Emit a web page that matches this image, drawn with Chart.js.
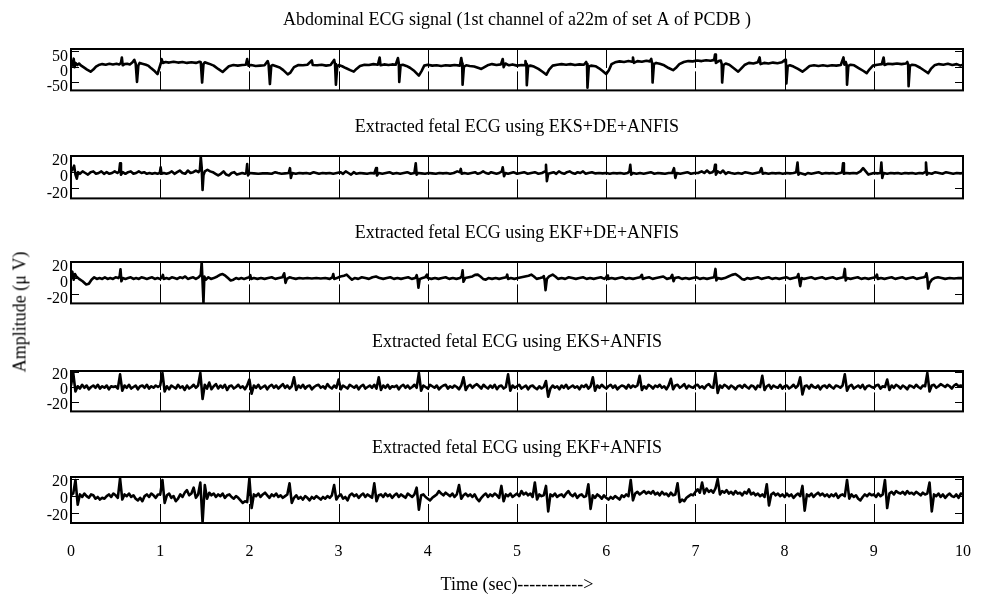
<!DOCTYPE html>
<html>
<head>
<meta charset="utf-8">
<script src="https://cdn.jsdelivr.net/npm/chart.js@4.4.1/dist/chart.umd.min.js"></script>
<style>
body { margin: 0; background: #fff; width: 984px; height: 597px; position: relative; overflow: hidden; }
canvas { position: absolute; left: 0; }
#ylab {
    position: absolute; left: 20px; top: 312px;
    transform: translate(-50%, -50%) rotate(-90deg);
    font: 18px "Liberation Serif", serif; white-space: nowrap; color: #000;
}
</style>
</head>
<body>
<canvas id="p0"></canvas>
<canvas id="p1"></canvas>
<canvas id="p2"></canvas>
<canvas id="p3"></canvas>
<canvas id="p4"></canvas>
<div id="ylab">Amplitude (μ V)</div>
<script>
const panelTitles = [
    'Abdominal ECG signal (1st channel of a22m of set A of PCDB )',
    'Extracted fetal ECG using EKS+DE+ANFIS',
    'Extracted fetal ECG using EKF+DE+ANFIS',
    'Extracted fetal ECG using EKS+ANFIS',
    'Extracted fetal ECG using EKF+ANFIS'
];
const maternalTicks = [-50, 0, 50];
const fetalTicks = [-20, 0, 20];
const timeLabel = 'Time (sec)----------->';
const sampleStep = 0.025; // sec, for the two ANFIS-only traces

// [time (s), amplitude]
const abdominalEcg = [
    [0.00, 8], [0.015, 3], [0.03, 26], [0.04, -2], [0.05, 12], [0.07, 5], [0.09, 10], [0.11, 4], [0.14, -2], [0.18, -10],
    [0.22, -17], [0.25, -10], [0.28, 0], [0.31, 5], [0.35, 8], [0.39, 6], [0.43, 9], [0.47, 7], [0.51, 9], [0.54, 7],
    [0.56, 12], [0.57, 30], [0.58, 4], [0.60, 8], [0.63, 9], [0.66, 7], [0.69, 14], [0.71, 22], [0.725, 10], [0.74, -51],
    [0.755, 4], [0.77, 12], [0.80, 9], [0.84, 6], [0.87, 2], [0.90, -6], [0.94, -16], [0.97, -25], [0.99, -5], [1.01, 14],
    [1.015, 25], [1.03, 12], [1.06, 15], [1.10, 13], [1.15, 16], [1.20, 13], [1.25, 15], [1.30, 12], [1.35, 14], [1.40, 12],
    [1.44, 16], [1.455, 14], [1.47, -53], [1.485, 8], [1.50, 14], [1.53, 11], [1.56, 8], [1.60, 3], [1.65, -8], [1.70, -18],
    [1.73, -10], [1.77, 1], [1.82, 5], [1.87, 3], [1.92, 5], [1.96, 6], [1.975, 25], [1.99, 3], [2.02, 5], [2.07, 2],
    [2.12, 3], [2.17, 4], [2.205, 18], [2.215, 8], [2.23, -58], [2.245, 2], [2.26, 5], [2.30, 1], [2.34, -3], [2.38, -12],
    [2.43, -26], [2.46, -20], [2.50, -2], [2.55, 5], [2.60, 4], [2.65, 6], [2.70, 20], [2.71, 5], [2.76, 4], [2.81, 6],
    [2.86, 3], [2.91, 5], [2.95, 22], [2.96, 8], [2.97, -60], [2.985, 0], [3.00, 5], [3.04, 1], [3.08, -5], [3.13, -12],
    [3.17, -17], [3.20, -8], [3.24, 2], [3.29, 6], [3.34, 5], [3.39, 8], [3.44, 6], [3.46, 30], [3.47, 4], [3.51, 7],
    [3.56, 5], [3.60, 7], [3.64, 6], [3.665, 28], [3.675, 10], [3.68, -51], [3.695, 4], [3.72, 6], [3.76, 2], [3.80, -4],
    [3.85, -15], [3.90, -30], [3.93, -15], [3.96, 3], [4.00, 6], [4.05, 3], [4.10, 4], [4.15, 2], [4.20, 4], [4.25, 3],
    [4.30, 5], [4.36, 3], [4.375, 28], [4.385, 10], [4.39, -60], [4.405, 0], [4.43, 4], [4.47, 2], [4.52, 0], [4.57, -5],
    [4.60, -8], [4.63, -3], [4.67, 4], [4.72, 8], [4.77, 5], [4.82, 7], [4.84, 25], [4.85, -2], [4.87, 10], [4.91, 4],
    [4.95, 7], [5.00, 3], [5.05, 5], [5.09, 4], [5.095, 18], [5.105, 8], [5.11, -62], [5.125, 2], [5.15, 3], [5.19, 0],
    [5.24, -8], [5.29, -18], [5.33, -27], [5.36, -10], [5.40, 3], [5.45, 6], [5.50, 8], [5.55, 6], [5.60, 8], [5.65, 5],
    [5.70, 7], [5.75, 6], [5.775, 15], [5.785, 8], [5.79, -70], [5.805, 0], [5.83, 3], [5.88, 1], [5.92, -6], [5.96, -15],
    [6.00, -25], [6.03, -12], [6.06, 8], [6.10, 14], [6.15, 17], [6.20, 15], [6.25, 18], [6.29, 16], [6.30, 30], [6.31, 12],
    [6.35, 18], [6.40, 16], [6.45, 19], [6.49, 17], [6.505, 25], [6.515, 10], [6.52, -53], [6.535, 8], [6.56, 12], [6.60, 9],
    [6.65, 4], [6.70, -5], [6.75, -12], [6.78, -5], [6.82, 8], [6.87, 15], [6.92, 18], [6.97, 17], [7.02, 20], [7.07, 18],
    [7.12, 21], [7.17, 19], [7.21, 22], [7.22, 40], [7.23, 12], [7.26, 18], [7.285, 20], [7.295, 8], [7.30, -53], [7.315, 5],
    [7.34, 10], [7.38, 6], [7.42, -3], [7.48, -17], [7.51, -8], [7.55, 5], [7.60, 12], [7.65, 10], [7.70, 14], [7.72, 30],
    [7.73, 8], [7.77, 12], [7.82, 10], [7.87, 13], [7.92, 11], [7.97, 14], [8.005, 22], [8.015, 10], [8.02, -56], [8.035, 2],
    [8.06, 4], [8.10, 0], [8.15, -8], [8.20, -17], [8.24, -8], [8.28, 2], [8.33, 4], [8.38, 2], [8.43, 4], [8.48, 2],
    [8.53, 4], [8.58, 3], [8.63, 5], [8.66, 30], [8.67, 6], [8.685, 15], [8.695, 6], [8.70, -60], [8.715, 2], [8.74, 6],
    [8.78, 4], [8.83, -5], [8.88, -14], [8.92, -22], [8.95, -10], [8.99, 3], [9.04, 6], [9.09, 8], [9.11, 30], [9.12, 5],
    [9.16, 9], [9.21, 8], [9.26, 10], [9.31, 8], [9.36, 10], [9.375, 15], [9.385, 6], [9.39, -65], [9.405, 2], [9.43, 6],
    [9.47, 4], [9.52, -4], [9.57, -14], [9.61, -22], [9.64, -8], [9.68, 4], [9.73, 8], [9.78, 6], [9.83, 9], [9.88, 5],
    [9.93, 8], [9.97, 3], [10.0, 6]
];

const eksDeAnfis = [
    [0, 1], [0.02, 4], [0.035, 8], [0.05, -3], [0.065, -8], [0.08, 0], [0.10, -2], [0.13, 1], [0.16, -1], [0.19, -3],
    [0.22, 0], [0.25, 1], [0.28, -2], [0.31, -1], [0.34, 1], [0.37, -2], [0.40, 0], [0.43, -2], [0.46, -1], [0.49, 1],
    [0.52, -1], [0.54, 1], [0.55, 11], [0.56, -3], [0.58, 0], [0.61, -2], [0.64, 0], [0.67, 1], [0.70, -2], [0.73, -1],
    [0.76, 1], [0.79, -1], [0.82, 0], [0.85, -2], [0.88, -1], [0.91, -2], [0.94, -1], [0.97, -2], [0.995, -1], [1.005, 6],
    [1.015, -2], [1.04, -1], [1.07, -2], [1.10, -1], [1.13, 1], [1.16, -2], [1.19, 0], [1.22, 2], [1.25, -1], [1.28, -2],
    [1.31, 2], [1.34, -1], [1.37, 0], [1.40, 2], [1.43, 0], [1.445, 3], [1.455, 19], [1.465, 6], [1.475, -22], [1.485, -4],
    [1.50, 1], [1.53, 3], [1.56, 1], [1.59, 0], [1.62, -2], [1.65, -4], [1.68, -2], [1.71, 1], [1.74, -3], [1.77, -4],
    [1.80, -1], [1.83, 0], [1.86, -3], [1.89, -2], [1.92, -1], [1.95, -2], [1.965, -1], [1.975, 10], [1.985, -4], [2.00, -1],
    [2.05, -1.5], [2.10, -2], [2.15, -1.5], [2.20, -1.5], [2.25, -2], [2.29, 0], [2.32, -1], [2.36, -2], [2.40, -1.5], [2.44, -1],
    [2.455, 5], [2.465, -7], [2.48, -1], [2.52, -2], [2.56, -1], [2.60, -1.5], [2.64, -1], [2.68, -2], [2.72, 0], [2.75, -1],
    [2.78, -2], [2.82, -1], [2.86, -1.5], [2.90, -1], [2.94, -2], [2.98, -1], [3.02, 0], [3.05, -2], [3.08, 1], [3.11, -1],
    [3.14, -3], [3.17, 0], [3.20, -2], [3.24, -1], [3.28, -1.5], [3.32, -2], [3.36, -1], [3.40, -1.5], [3.42, 5], [3.43, -4],
    [3.45, -1], [3.49, -2], [3.53, -1], [3.57, 0], [3.61, -2], [3.65, -1], [3.69, -2], [3.73, -1], [3.77, 0], [3.81, -2],
    [3.85, -1], [3.865, 11], [3.875, -3], [3.89, -1], [3.93, -1.5], [3.97, -2], [4.01, -1], [4.05, -1.5], [4.09, -2], [4.13, -1],
    [4.17, -1.5], [4.21, -1], [4.25, -2], [4.29, -1], [4.33, 1], [4.36, 0], [4.37, 4], [4.38, -2], [4.41, -1], [4.45, -2],
    [4.49, -1], [4.53, 0], [4.56, -2], [4.59, -1], [4.62, 1], [4.65, -1], [4.68, -2], [4.71, 0], [4.74, -1], [4.77, -2],
    [4.80, -1], [4.83, 1], [4.84, 6], [4.855, -5], [4.87, -1], [4.90, -2], [4.93, -1], [4.96, 0], [5.00, -2], [5.04, -1],
    [5.08, 0], [5.12, -2], [5.16, -1], [5.20, 0], [5.24, -2], [5.28, -1], [5.315, 1], [5.325, 9], [5.335, -11], [5.35, -2],
    [5.38, -1], [5.41, 0], [5.44, -2], [5.47, 1], [5.50, -1], [5.53, -2], [5.56, 0], [5.59, 1], [5.62, -1], [5.65, -2],
    [5.68, 0], [5.71, -1], [5.74, 1], [5.77, -2], [5.80, -1], [5.84, 0], [5.88, -1.5], [5.92, -1], [5.96, -1.5], [6.00, -1],
    [6.04, -2], [6.08, -1], [6.12, -1.5], [6.16, -1], [6.20, -2], [6.24, -1], [6.26, 1], [6.27, 9], [6.28, -3], [6.30, -1],
    [6.34, -2], [6.38, -1], [6.42, -2], [6.46, -1], [6.50, 0], [6.54, -2], [6.58, -1], [6.62, -1.5], [6.66, -2], [6.70, -1],
    [6.74, -1], [6.76, 5], [6.775, -7], [6.79, -1], [6.83, -2], [6.87, -1], [6.91, 0], [6.95, -2], [6.99, -1], [7.03, -1],
    [7.07, 1], [7.10, -1], [7.13, 2], [7.16, -1], [7.19, 0], [7.21, 2], [7.22, 9], [7.23, -3], [7.25, 1], [7.28, -1],
    [7.31, 2], [7.34, -2], [7.37, 0], [7.40, -1], [7.44, -2], [7.48, -1], [7.52, -2], [7.56, 0], [7.60, -1], [7.64, -2],
    [7.68, -1], [7.72, 0], [7.74, 5], [7.755, -2], [7.78, -1], [7.82, -2], [7.86, -1], [7.90, -1.5], [7.94, -1], [7.98, -2],
    [8.02, -1], [8.06, -1.5], [8.10, -1], [8.13, 0], [8.145, 12], [8.155, -3], [8.17, -1], [8.20, -2], [8.23, -3], [8.26, -1],
    [8.30, -2], [8.34, -1], [8.38, 0], [8.42, -2], [8.46, -1], [8.50, -1.5], [8.54, -1], [8.58, -2], [8.62, -1], [8.645, 0],
    [8.655, 11], [8.665, -2], [8.69, -1], [8.73, -1.5], [8.77, -1], [8.81, -1.5], [8.85, 1], [8.88, 5], [8.91, 1], [8.94, -3],
    [8.97, -2], [9.00, -1], [9.04, -1.5], [9.075, -1], [9.085, 12], [9.095, -7], [9.11, -1], [9.15, -2], [9.19, -1], [9.23, -1.5],
    [9.27, -1], [9.31, -2], [9.35, -1], [9.39, -1.5], [9.43, -1], [9.47, -2], [9.51, -1], [9.55, -1.5], [9.575, 0], [9.585, 12],
    [9.595, -3], [9.61, -1], [9.65, -2], [9.69, 0], [9.73, -1], [9.77, -2], [9.81, 0], [9.85, -1], [9.89, -2], [9.93, -1],
    [9.97, -1.5], [10.0, -1]
];

const ekfDeAnfis = [
    [0, 3], [0.015, 8], [0.03, -2], [0.045, 5], [0.06, 2], [0.09, -1], [0.13, -4], [0.17, -8], [0.20, -7], [0.23, -2],
    [0.26, 1], [0.29, -1], [0.32, 0], [0.35, -1], [0.38, 1], [0.41, -1], [0.44, 0], [0.47, -1], [0.50, 1], [0.53, 0],
    [0.545, 2], [0.555, 11], [0.565, -4], [0.58, 0], [0.61, -1], [0.64, 0], [0.67, 1], [0.70, -1], [0.73, 0], [0.76, -1],
    [0.79, 1], [0.82, 0], [0.85, -1], [0.88, 0], [0.91, 1], [0.94, -1], [0.97, 0], [1.00, -1], [1.02, 1], [1.03, 4],
    [1.04, -1], [1.07, 0], [1.10, -1], [1.13, 1], [1.16, 0], [1.19, -1], [1.22, 1], [1.25, 0], [1.28, 2], [1.31, -1],
    [1.34, 0], [1.37, 1], [1.40, -1], [1.43, 1], [1.455, 4], [1.465, 20], [1.475, -5], [1.485, -31], [1.495, 2], [1.51, -2],
    [1.54, 1], [1.57, -1], [1.60, 0], [1.64, 2], [1.67, 4], [1.70, 5], [1.73, 3], [1.76, 0], [1.79, -3], [1.82, -2],
    [1.85, 0], [1.88, -1], [1.91, 0], [1.94, -1], [1.97, 0], [2.00, 1], [2.01, 3.6], [2.02, -1], [2.05, 0], [2.09, -1],
    [2.13, 0], [2.17, -1], [2.21, 0], [2.25, 1], [2.29, -1], [2.33, 0], [2.37, 1], [2.39, 6], [2.405, -6], [2.42, -1],
    [2.45, 1], [2.48, 0], [2.52, -1], [2.56, 0], [2.60, -0.5], [2.65, 0], [2.70, -0.5], [2.75, 0], [2.80, -0.5], [2.85, 0],
    [2.90, -1], [2.93, 1], [2.94, 5], [2.95, -1], [2.98, 0], [3.02, 2], [3.06, 3], [3.09, 4.3], [3.12, 1], [3.15, -2],
    [3.18, 0], [3.22, -1], [3.26, 1], [3.30, 0], [3.34, -1], [3.38, 1], [3.42, 2], [3.46, 0], [3.50, -1], [3.54, 0],
    [3.58, 1], [3.62, -1], [3.66, 0], [3.70, -1], [3.74, 0], [3.78, 1], [3.82, -1], [3.86, 0], [3.875, 3.6], [3.885, -1],
    [3.895, -12], [3.91, -1], [3.94, 0], [3.97, 1], [3.99, 4.3], [4.00, 0], [4.04, -1], [4.08, 0], [4.12, -1], [4.16, 0],
    [4.20, 1], [4.24, -1], [4.28, 0], [4.32, -1], [4.36, 0], [4.38, 2], [4.39, 9.6], [4.40, -4.6], [4.42, 0], [4.46, 1],
    [4.50, 2], [4.53, 4], [4.56, 4.3], [4.59, 2], [4.62, -1], [4.65, -2], [4.68, 0], [4.72, -1], [4.76, 0], [4.80, -1],
    [4.84, 0], [4.88, 1], [4.89, 4.3], [4.90, -1], [4.93, 0], [4.97, -1], [5.01, 0], [5.05, 1], [5.09, 2], [5.13, 3],
    [5.16, 4.3], [5.19, 2], [5.22, -1], [5.26, 0], [5.29, 1], [5.30, 2.5], [5.31, -3], [5.32, -15], [5.335, -1], [5.36, 2],
    [5.40, 4.3], [5.43, 2], [5.46, -1], [5.50, 0], [5.54, -1], [5.58, 1], [5.62, 0], [5.66, -1], [5.70, 0], [5.74, 1],
    [5.78, -1], [5.82, 0], [5.86, -1], [5.90, 0], [5.94, 1], [5.98, -1], [6.00, 1], [6.01, 3], [6.02, -1], [6.06, 0],
    [6.10, -1], [6.14, 0], [6.18, 1], [6.22, -1], [6.26, 0], [6.30, -1], [6.34, 0], [6.38, 1], [6.40, 4], [6.41, -1],
    [6.44, 0], [6.48, 1], [6.52, -1], [6.56, 0], [6.60, 1], [6.64, 2], [6.68, -1], [6.72, 0], [6.74, 4], [6.755, -4],
    [6.77, 0], [6.81, 1], [6.85, -1], [6.89, 0], [6.93, -1], [6.97, 0], [7.01, 1], [7.05, -1], [7.09, 0], [7.13, -1],
    [7.17, 0], [7.21, 1], [7.225, 11.4], [7.235, -2.8], [7.25, 0], [7.29, -1], [7.33, 0], [7.37, 2], [7.41, 4], [7.45, 5],
    [7.49, 2], [7.52, -1], [7.55, -2], [7.58, 0], [7.62, -1], [7.66, 0], [7.70, 1], [7.74, -1], [7.78, 0], [7.82, 1],
    [7.86, -1], [7.90, 0], [7.94, -1], [7.98, 0], [8.02, 1], [8.06, -1], [8.10, 0], [8.14, 1], [8.155, 5], [8.165, -3],
    [8.175, -10], [8.19, 0], [8.22, -1], [8.26, 0], [8.30, 1], [8.34, -1], [8.38, 0], [8.42, 1], [8.46, -1], [8.50, 0],
    [8.54, 1], [8.58, -1], [8.62, 0], [8.66, 1], [8.675, 11.4], [8.685, -3], [8.70, 0], [8.74, -1], [8.78, 0], [8.82, 1],
    [8.86, -1], [8.90, 0], [8.94, -1], [8.98, 0], [9.02, 1], [9.035, 4.3], [9.045, -1], [9.08, 0], [9.12, -1], [9.16, 0],
    [9.20, 1], [9.24, -1], [9.28, 0], [9.32, 1], [9.36, -1], [9.40, 0], [9.44, 1], [9.48, -1], [9.52, 0], [9.56, 1],
    [9.58, 2], [9.59, 6], [9.60, 0], [9.61, -13], [9.625, -6], [9.65, -2], [9.68, 0], [9.72, 1], [9.76, 0], [9.80, -1],
    [9.85, 0], [9.90, -0.5], [9.95, 0], [10.0, 0]
];

// sampled every sampleStep seconds, one row = 0.5 s
const eksAnfis = [
    2, 19, -6, 1, -2, 3, -1, 2, -3, 0, 2, -1, 3, -2, 1, -1, 2, -3, 1, 0,
    1, -2, 17, -5, 2, -1, 3, -2, 0, 2, -3, 1, 2, -1, 3, -2, 1, -1, 2, 0,
    2, 19, -6, 1, -3, 2, 0, -2, 3, -1, 1, -4, 2, -2, 0, 3, -1, 2, 19, -16,
    3, -2, 6, -3, 1, 4, -2, 2, -1, 3, -4, 1, 2, -2, 0, 3, -1, 1, -3, 2,
    10, -9, 2, -1, 3, -2, 0, 2, -3, 1, 3, -1, 2, -2, 1, 4, -1, 2, -2, 1,
    13, -4, 2, -1, 3, -2, 1, 2, -3, 0, 2, 3, -1, 1, -2, 4, 0, -2, 2, -1,
    10, -3, 2, 0, -2, 3, 1, -1, 2, -3, 1, 3, -2, 0, 2, -1, 3, -2, 13, -4,
    2, -1, 3, -2, 1, 0, 2, -3, 1, 3, -1, 2, -2, 0, 3, -1, 19, -5, 2, 0,
    -2, 3, 1, -1, 2, -3, 0, 2, 3, -2, 1, -1, 2, 0, -3, 2, 13, -4, 1, 3,
    -1, 2, 4, 1, -2, 3, 0, -2, 2, -1, 3, -3, 1, 2, -2, 0, 17, -5, 2, -1,
    1, 3, -2, 0, 2, -3, 1, 2, -1, -3, 1, -2, 0, 8, -13, -2, 2, -1, 1, -3,
    2, -1, 3, -2, 0, 2, -1, 1, -3, 2, 0, 3, -2, 1, 13, -5, 2, -1, 3, 0,
    -2, 1, 3, -1, 2, -3, 0, 2, 1, -2, 3, -1, 2, 0, 2, 15, -4, 1, -2, 3,
    1, -2, 2, 0, 3, -1, 1, -3, 2, 11, -3, 2, 3, -1, 1, 4, -2, 2, 0, -1,
    2, 3, -1, 1, -2, 2, 4, 0, -1, 19, -8, 2, -1, 3, 1, -2, 2, 0, -3, 1,
    2, -1, 3, 0, -2, 2, 1, -3, 2, 0, 15, -4, 1, 3, -2, 2, 0, -1, 3, -2,
    1, 2, -2, 0, 3, -1, 2, 13, -10, 1, 2, -2, 3, 0, -1, 2, -3, 1, 2, -1,
    3, 0, -2, 2, 1, -1, 2, 17, -5, 1, 3, -2, 0, 2, -1, 3, -3, 1, 2, 0,
    -1, 2, 3, -2, 1, 0, 10, -4, 2, -1, 3, 1, -2, 2, 0, -3, 2, 1, -1, 3,
    0, -2, 2, 1, 19, -6, 2, 3, -1, 1, 4, 2, 0, 3, 1, -2, 2, 4, 1, 2,
    1
];

const ekfAnfis = [
    1, 3, 19, -10, 2, -1, 3, 0, -2, 2, 1, -3, -1, -4, -2, -3, 0, 2, -1, 3,
    1, -2, 21, -4, 2, 0, 3, -1, 1, -3, -5, -2, -6, 0, 2, -1, 3, 1, -2, 2,
    2, 19, -8, 1, 3, -2, 0, -6, -3, 2, -1, 4, 7, 1, 3, 10, -2, 2, 16, -31,
    13, -3, 4, 1, 3, -1, 2, 0, 3, -2, 1, 2, -1, -3, 0, -2, -5, -8, -6, -7,
    21, -14, 2, 0, 3, -1, 2, 4, 1, -2, 2, 0, 3, -1, 1, -2, 0, 2, 15, -8,
    -2, 1, -3, -1, -4, 0, -2, -5, -1, -3, 0, -2, -4, -1, -3, 0, -2, 1, 13, -4,
    0, 2, -3, -1, -5, 1, 3, 0, 2, -2, 1, 3, -1, 2, 0, -2, 15, -6, 1, 2,
    -1, 3, 0, 2, -2, 1, 3, -1, 2, 0, -2, 3, 1, -1, 2, 10, -16, 1, 2, -1,
    -3, -5, -2, 0, 2, 6, 3, 1, 4, 2, 0, 3, -1, 2, 13, -3, 1, 3, 0, 2,
    -1, 2, -3, -6, -2, 1, 3, -1, 2, 0, 3, 1, -2, 12, -6, 2, 0, 3, -1, 1,
    3, 0, 6, 2, 4, 1, 3, -1, 16, -4, 2, 0, 1, 12, -18, 2, 0, 3, -1, 1,
    2, -1, 3, 6, 2, 0, 3, -2, 1, 2, -1, 0, 14, -15, 1, -2, 2, 0, -3, 1,
    -2, -4, -1, -3, 0, -2, -4, 1, -1, 2, 0, 19, -5, 3, 5, 2, 4, 6, 3, 5,
    3, 6, 2, 4, 1, 5, 2, 3, 0, 4, 1, 2, 15, -7, -4, -6, -2, 0, 2, 1,
    5, 8, 4, 16, 3, 9, 5, 7, 4, 9, 20, 2, 6, 4, 7, 3, 5, 2, 6, 3,
    4, 1, 5, 3, 8, 2, 4, 1, 3, 0, 2, -1, 14, -11, 2, 4, 1, 3, 0, 2,
    -1, 3, 0, 2, -2, 1, 3, 0, 12, -17, 2, 0, 3, -1, 2, 4, 1, 3, 0, 2,
    -1, 2, 0, 3, -2, 1, 2, 0, 19, -3, 2, -1, 1, -3, -5, -1, 2, 0, 3, 1,
    2, -1, 3, 0, 2, 19, -14, 3, 5, 2, 6, 4, 3, 5, 2, 6, 3, 4, 2, 5,
    3, 1, 4, 2, 3, 16, -18, 2, 0, 3, -1, 2, -2, 1, 3, 0, -1, 2, -2, 3,
    2
];

Chart.defaults.font.family = '"Liberation Serif", "Times New Roman", serif';
Chart.defaults.font.size = 16;
Chart.defaults.color = '#000';

const pairs = arr => arr.map(([t, v]) => ({ x: t, y: v }));
const sampled = arr => arr.map((v, i) => ({ x: i * sampleStep, y: v }));

// plot boxes, in page pixels
const panels = [
    { data: pairs(abdominalEcg), top: 49, bottom: 97, min: -79, max: 58, ticks: maternalTicks, off: 5 },
    { data: pairs(eksDeAnfis), top: 156, bottom: 205, min: -32.4, max: 20, ticks: fetalTicks, off: 5 },
    { data: pairs(ekfDeAnfis), top: 262, bottom: 310, min: -31.5, max: 20, ticks: fetalTicks, off: 5 },
    { data: sampled(eksAnfis), top: 371, bottom: 418, min: -32.7, max: 21.5, ticks: fetalTicks, off: 3 },
    { data: sampled(ekfAnfis), top: 477, bottom: 523, min: -31.6, max: 22.5, ticks: fetalTicks, off: 3 }
];

// box, inward tick marks and panel title
const framePlugin = {
    id: 'frame',
    beforeDatasetsDraw(chart, args, opts) {
        const { ctx, chartArea: a, scales: { x, y } } = chart;
        ctx.save();
        ctx.strokeStyle = '#000';
        ctx.lineWidth = 1;
        ctx.beginPath();
        for (let t = 1; t < 10; t++) {
            const px = Math.round(x.getPixelForValue(t)) + 0.5;
            ctx.moveTo(px, a.top); ctx.lineTo(px, a.top + 19);
            ctx.moveTo(px, a.bottom); ctx.lineTo(px, a.bottom - 19);
        }
        y.ticks.forEach(tk => {
            const py = Math.round(y.getPixelForValue(tk.value)) + 0.5;
            ctx.moveTo(a.left, py); ctx.lineTo(a.left + 8, py);
            ctx.moveTo(a.right, py); ctx.lineTo(a.right - 8, py);
        });
        ctx.stroke();
        ctx.restore();
    },
    afterDatasetsDraw(chart, args, opts) {
        const { ctx, chartArea: a } = chart;
        ctx.save();
        ctx.strokeStyle = '#000';
        ctx.lineWidth = 2;
        ctx.strokeRect(a.left, a.top, a.right - a.left, a.bottom - a.top);
        ctx.fillStyle = '#000';
        ctx.font = '18px "Liberation Serif", serif';
        ctx.textAlign = 'center';
        ctx.textBaseline = 'alphabetic';
        ctx.fillText(opts.title, (a.left + a.right) / 2, a.top - 24.5);
        ctx.restore();
    }
};

panels.forEach((p, i) => {
    const last = i === panels.length - 1;
    const canvas = document.getElementById('p' + i);
    const canvasTop = p.top - 48;
    const height = last ? 597 - canvasTop : p.bottom + 6 - canvasTop;
    canvas.width = 984;
    canvas.height = height;
    canvas.style.top = canvasTop + 'px';

    new Chart(canvas, {
        type: 'line',
        data: {
            datasets: [{
                data: p.data,
                borderColor: '#000',
                borderWidth: 2.6,
                borderJoinStyle: 'round',
                pointRadius: 0,
                tension: 0
            }]
        },
        options: {
            responsive: false,
            animation: false,
            devicePixelRatio: 1,
            layout: { padding: { top: 48, right: 21, bottom: last ? 0 : 6, left: 0 } },
            plugins: {
                legend: { display: false },
                tooltip: { enabled: false },
                frame: { title: panelTitles[i] }
            },
            scales: {
                x: {
                    type: 'linear',
                    min: 0,
                    max: 10,
                    display: last,
                    grid: { display: false, drawTicks: false },
                    border: { display: false },
                    ticks: { stepSize: 1, padding: 19, autoSkip: false, maxRotation: 0 },
                    title: {
                        display: last,
                        text: timeLabel,
                        font: { size: 18 },
                        padding: { top: 0, bottom: 1 }
                    },
                    afterFit(s) {
                        if (!last) return;
                        s.height = 597 - 523;
                        s.paddingLeft = 0;
                        s.paddingRight = 0;
                    }
                },
                y: {
                    min: p.min,
                    max: p.max,
                    grid: { display: false, drawTicks: false },
                    border: { display: false },
                    ticks: { padding: 3, labelOffset: p.off },
                    afterBuildTicks(s) { s.ticks = p.ticks.map(v => ({ value: v })); },
                    afterFit(s) { s.width = 71; }
                }
            }
        },
        plugins: [framePlugin]
    });
});
</script>
</body>
</html>
